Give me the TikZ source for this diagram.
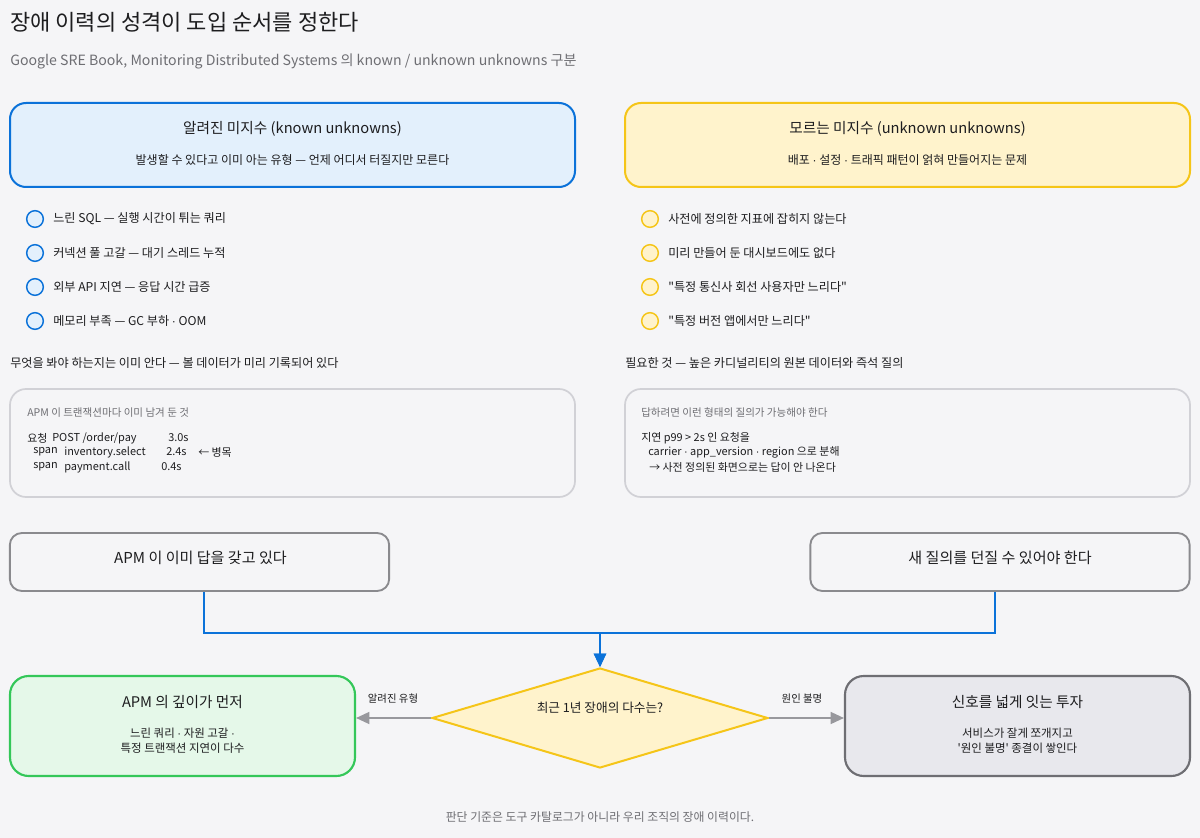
\documentclass[tikz,border=0pt]{standalone}
\usepackage{fontspec}
\setmainfont{Noto Sans CJK KR}
\newfontfamily\krfont{Noto Sans CJK KR}
\newfontfamily\dotfont{Liberation Sans}
\usetikzlibrary{shapes.geometric,arrows.meta}
\definecolor{bg}{HTML}{F5F5F7}
\definecolor{ink}{HTML}{1D1D1F}
\definecolor{muted}{HTML}{6E6E73}
\definecolor{blueS}{HTML}{0B72D9}
\definecolor{blueF}{HTML}{E3F0FC}
\definecolor{yelS}{HTML}{F5C518}
\definecolor{yelF}{HTML}{FFF3CC}
\definecolor{grnS}{HTML}{34C759}
\definecolor{grnF}{HTML}{E5F8E9}
\definecolor{codeS}{HTML}{D1D1D6}
\definecolor{midS}{HTML}{8A8A8E}
\definecolor{endS}{HTML}{6E6E73}
\definecolor{endF}{HTML}{E8E8ED}
\definecolor{arrG}{HTML}{98989D}
\newcommand{\fsz}[1]{\fontsize{#1}{1.3\dimexpr#1\relax}\selectfont}
\newcommand{\md}{{\dotfont ·}}
\tikzset{
  txt/.style={inner sep=0pt, text=ink},
  ltxt/.style={txt, anchor=west},
  panel/.style={draw, rounded corners=12pt, line width=1.5pt, minimum width=423.75pt, minimum height=63pt, inner sep=0pt},
  codebox/.style={draw=codeS, fill=bg, rounded corners=12pt, line width=1.3pt, minimum width=423.75pt, minimum height=81pt, inner sep=0pt},
  midbox/.style={draw=midS, fill=bg, rounded corners=9pt, line width=1.4pt, minimum width=284.5pt, minimum height=43.5pt, inner sep=0pt},
  endbox/.style={draw, rounded corners=14pt, line width=1.6pt, minimum width=258.75pt, minimum height=75pt, inner sep=0pt},
  bulB/.style={circle, draw=blueS, fill=blueF, line width=1.1pt, minimum size=12.5pt, inner sep=0pt},
  bulY/.style={circle, draw=yelS, fill=yelF, line width=1.1pt, minimum size=12.5pt, inner sep=0pt},
  bluearrow/.style={draw=blueS, line width=1.6pt, -{Triangle[width=9pt,length=10pt]}},
  greyarrow/.style={draw=arrG, line width=1.2pt, -{Triangle[width=9pt,length=10pt]}},
}
\begin{document}
\krfont
\begin{tikzpicture}[x=0.75pt,y=-0.75pt]
\fill[bg] (0,0) rectangle (1200,838);
\useasboundingbox (0,0) rectangle (1200,838);

% title
\node[ltxt, font=\fsz{16.5pt}] (title) at (10,22) {장애 이력의 성격이 도입 순서를 정한다};
\node[ltxt, text=muted, font=\fsz{10.6pt}] (subtitle) at (10,61) {Google SRE Book, Monitoring Distributed Systems 의 known / unknown unknowns 구분};

% top panels
\node[panel, draw=blueS, fill=blueF] (known) at (292.5,145) {};
\node[txt, font=\fsz{11pt}] (knownT) at (292.5,129) {알려진 미지수 (known unknowns)};
\node[txt, font=\fsz{9pt}] (knownS) at (292.5,160) {발생할 수 있다고 이미 아는 유형 — 언제 어디서 터질지만 모른다};

\node[panel, draw=yelS, fill=yelF] (unknown) at (907.5,145) {};
\node[txt, font=\fsz{11pt}] (unknownT) at (907.5,129) {모르는 미지수 (unknown unknowns)};
\node[txt, font=\fsz{9pt}] (unknownS) at (907.5,160) {배포 \md{} 설정 \md{} 트래픽 패턴이 얽혀 만들어지는 문제};

% bullets left
\node[bulB] (b1) at (35,219) {};
\node[ltxt, font=\fsz{9.1pt}] (t1) at (53,219) {느린 SQL — 실행 시간이 튀는 쿼리};
\node[bulB] (b2) at (35,253) {};
\node[ltxt, font=\fsz{9.1pt}] (t2) at (53,253) {커넥션 풀 고갈 — 대기 스레드 누적};
\node[bulB] (b3) at (35,287) {};
\node[ltxt, font=\fsz{9.1pt}] (t3) at (53,287) {외부 API 지연 — 응답 시간 급증};
\node[bulB] (b4) at (35,321) {};
\node[ltxt, font=\fsz{9.1pt}] (t4) at (53,321) {메모리 부족 — GC 부하 \md{} OOM};

% bullets right
\node[bulY] (y1) at (650,219) {};
\node[ltxt, font=\fsz{9.1pt}] (u1) at (668,219) {사전에 정의한 지표에 잡히지 않는다};
\node[bulY] (y2) at (650,253) {};
\node[ltxt, font=\fsz{9.1pt}] (u2) at (668,253) {미리 만들어 둔 대시보드에도 없다};
\node[bulY] (y3) at (650,287) {};
\node[ltxt, font=\fsz{9.1pt}] (u3) at (668,287) {"특정 통신사 회선 사용자만 느리다"};
\node[bulY] (y4) at (650,321) {};
\node[ltxt, font=\fsz{9.1pt}] (u4) at (668,321) {"특정 버전 앱에서만 느리다"};

% notes
\node[ltxt, font=\fsz{9.1pt}] (noteL) at (10,363) {무엇을 봐야 하는지는 이미 안다 — 볼 데이터가 미리 기록되어 있다};
\node[ltxt, font=\fsz{9.1pt}] (noteR) at (625,363) {필요한 것 — 높은 카디널리티의 원본 데이터와 즉석 질의};

% code boxes
\node[codebox] (codeL) at (292.5,443) {};
\node[ltxt, text=muted, font=\fsz{7.9pt}] (cLh) at (27,413) {APM 이 트랜잭션마다 이미 남겨 둔 것};
\node[ltxt, font=\fsz{8.2pt}] (cL1a) at (27,438) {요청};
\node[ltxt, font=\fsz{8.2pt}] (cL1b) at (52,438) {POST /order/pay};
\node[ltxt, font=\fsz{8.2pt}] (cL1c) at (168,438) {3.0s};
\node[ltxt, font=\fsz{8.2pt}] (cL2a) at (33,452) {span};
\node[ltxt, font=\fsz{8.2pt}] (cL2b) at (64,452) {inventory.select};
\node[ltxt, font=\fsz{8.2pt}] (cL2c) at (166,452) {2.4s};
\node[ltxt, font=\fsz{8.2pt}] (cL2d) at (198,452) {← 병목};
\node[ltxt, font=\fsz{8.2pt}] (cL3a) at (33,467) {span};
\node[ltxt, font=\fsz{8.2pt}] (cL3b) at (64,467) {payment.call};
\node[ltxt, font=\fsz{8.2pt}] (cL3c) at (161,467) {0.4s};

\node[codebox] (codeR) at (907.5,443) {};
\node[ltxt, text=muted, font=\fsz{7.9pt}] (cRh) at (641,413) {답하려면 이런 형태의 질의가 가능해야 한다};
\node[ltxt, font=\fsz{8.2pt}] (cR1) at (641,438) {지연 p99 > 2s 인 요청을};
\node[ltxt, font=\fsz{8.2pt}] (cR2) at (648,452) {carrier \md{} app\_version \md{} region 으로 분해};
\node[ltxt, font=\fsz{8.2pt}] (cR3) at (649,467) {→ 사전 정의된 화면으로는 답이 안 나온다};

% mid boxes
\node[midbox] (apm) at (199.5,562) {};
\node[txt, font=\fsz{11.3pt}] (apmT) at (200.5,558) {APM 이 이미 답을 갖고 있다};
\node[midbox] (newq) at (1000,562) {};
\node[txt, font=\fsz{11.3pt}] (newqT) at (1000,558) {새 질의를 던질 수 있어야 한다};

% decision
\node[diamond, draw=yelS, fill=yelF, line width=1.5pt, minimum width=252pt, minimum height=75pt, inner sep=0pt] (dia) at (600,718) {};
\node[txt, font=\fsz{9.5pt}] (diaT) at (600,708) {최근 1년 장애의 다수는?};

\coordinate (join) at (600,633);
\draw[bluearrow] ([xshift=3.4pt]apm.south) |- (join) -- (dia.north);
\draw[bluearrow] ([xshift=-3.75pt]newq.south) |- (join) -- (dia.north);

% end boxes
\node[endbox, draw=grnS, fill=grnF] (green) at (182.5,726) {};
\node[txt, font=\fsz{11pt}] (greenT) at (182.5,702) {APM 의 깊이가 먼저};
\node[txt, font=\fsz{8.6pt}, align=center] (greenS) at (182.5,741) {느린 쿼리 \md{} 자원 고갈 \md{}\\특정 트랜잭션 지연이 다수};

\node[endbox, draw=endS, fill=endF] (grey) at (1017.5,726) {};
\node[txt, font=\fsz{11pt}] (greyT) at (1017.5,702) {신호를 넓게 잇는 투자};
\node[txt, font=\fsz{8.6pt}, align=center] (greyS) at (1017.5,741) {서비스가 잘게 쪼개지고\\'원인 불명' 종결이 쌓인다};

\draw[greyarrow] (dia.west) -- (dia.west -| green.east);
\draw[greyarrow] (dia.east) -- (dia.east -| grey.west);
\node[txt, font=\fsz{7.8pt}] (lblL) at (393,699) {알려진 유형};
\node[txt, font=\fsz{7.8pt}] (lblR) at (802,699) {원인 불명};

% footer
\node[txt, text=muted, font=\fsz{8.9pt}] (footer) at (600,817) {판단 기준은 도구 카탈로그가 아니라 우리 조직의 장애 이력이다.};
\end{tikzpicture}
\end{document}
